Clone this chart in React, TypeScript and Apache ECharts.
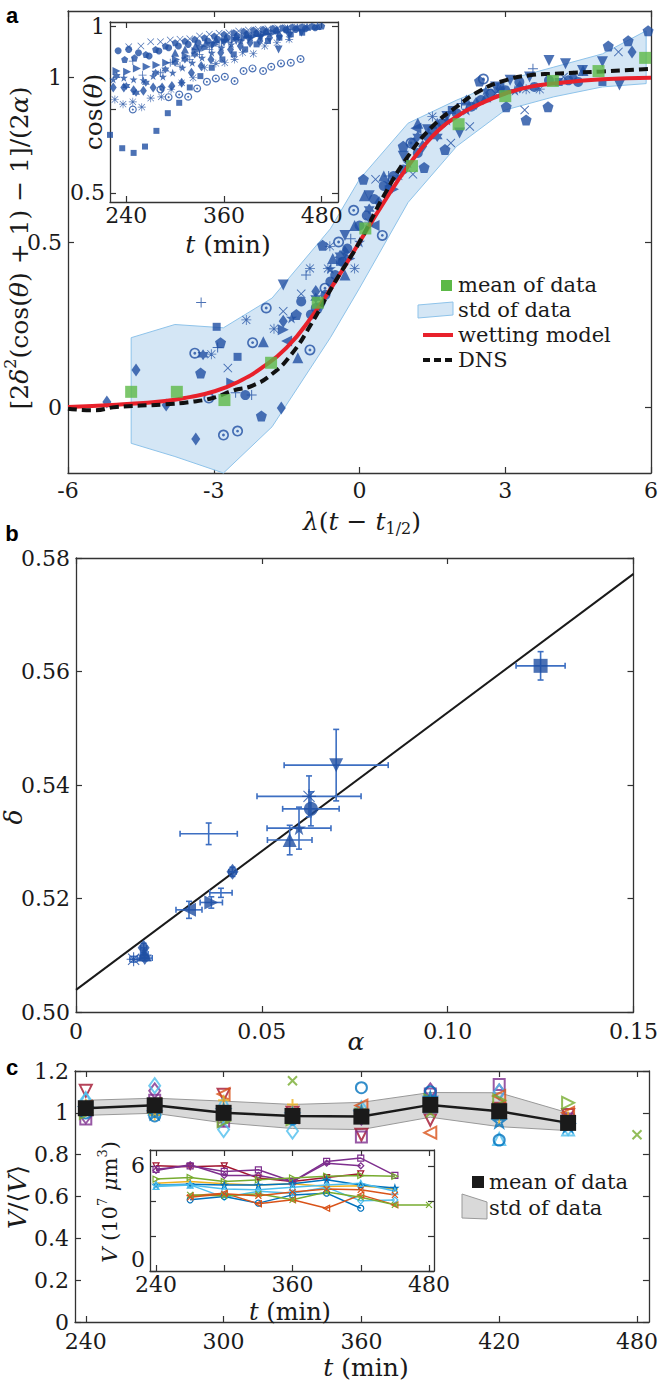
import React, { useEffect, useRef } from "react";
import * as echarts from "echarts";

const FONT = "DejaVu Serif";
const BLUE = "#1f4fa3";
const EBAR = "#3d6fc2";
const AXIS = "#333333";
const GREEN = "#5cb947";
const MB = "#0072BD", MO = "#D95319", MY = "#EDB120", MP = "#7E2F8E", MG = "#77AC30", MC = "#4DBEEE", MR = "#A2142F";

const SYM: Record<string, string> = {
  circle: "circle",
  square: "rect",
  triUp: "triangle",
  diamond: "diamond",
  triDown: "path://M0,0L20,0L10,18Z",
  triLeft: "path://M18,0L18,20L0,10Z",
  triRight: "path://M0,0L0,20L18,10Z",
  pentagon: "path://M10,0L19.5,6.9L15.9,18.1L4.1,18.1L0.5,6.9Z",
  pentagram: "path://M10,0L12.4,7.3L20,7.3L13.8,11.8L16.2,19L10,14.5L3.8,19L6.2,11.8L0,7.3L7.6,7.3Z",
  hexagram: "path://M10,0L12.9,5L18.7,5L15.8,10L18.7,15L12.9,15L10,20L7.1,15L1.3,15L4.2,10L1.3,5L7.1,5Z",
  plus: "path://M9,0H11V9H20V11H11V20H9V11H0V9H9Z",
  cross: "path://M1.4,0L10,8.6L18.6,0L20,1.4L11.4,10L20,18.6L18.6,20L10,11.4L1.4,20L0,18.6L8.6,10L0,1.4Z",
  asterisk: "path://M9.2,0H10.8V9.2H20V10.8H10.8V20H9.2V10.8H0V9.2H9.2ZM2.6,1.5L10,8.9L17.4,1.5L18.5,2.6L11.1,10L18.5,17.4L17.4,18.5L10,11.1L2.6,18.5L1.5,17.4L8.9,10L1.5,2.6Z",
  dotCircle: "path://M10,0A10,10 0 1,1 9.99,0ZM10,3A7,7 0 1,0 10.01,3ZM10,7.4A2.6,2.6 0 1,1 9.99,7.4Z",
  openCross: "path://M0,0L20,20M20,0L0,20",
  openPlus: "path://M10,0L10,20M0,10L20,10",
};

// ---------- Panel a: main ----------
const aBandLambda = [-4.7, -3.8, -2.8, -1.8, -0.6, 0, 1, 2, 3, 4, 5, 5.9];
const aBandLower = [-0.11, -0.15, -0.2, -0.06, 0.21, 0.36, 0.62, 0.79, 0.9, 0.94, 0.97, 0.98];
const aBandUpper = [0.21, 0.25, 0.24, 0.33, 0.54, 0.69, 0.86, 0.93, 0.99, 1.03, 1.07, 1.14];

const aMeanLambda = [-4.7, -3.76, -2.78, -1.82, -0.86, 0.12, 1.08, 2.04, 3.0, 3.98, 4.92, 5.88];
const aMeanValue = [0.046, 0.046, 0.021, 0.134, 0.316, 0.541, 0.73, 0.857, 0.942, 0.988, 1.018, 1.058];

const wettingLambda = [-6, -5, -4, -3.5, -3, -2.5, -2, -1.5, -1, -0.5, 0, 0.5, 1, 1.5, 2, 2.5, 3, 3.5, 4, 5, 6];
const wettingValue = [0.0, 0.007, 0.018, 0.03, 0.047, 0.076, 0.12, 0.18, 0.27, 0.38, 0.5, 0.62, 0.73, 0.82, 0.88, 0.92, 0.95, 0.97, 0.98, 0.993, 0.998];

const dnsLambda = [-6, -5.5, -5, -4, -3.5, -3, -2.6, -2.2, -1.8, -1.4, -1, -0.5, 0, 0.5, 1, 1.5, 2, 2.5, 3, 3.5, 4, 5, 6];
const dnsValue = [-0.005, -0.01, 0.0, 0.008, 0.015, 0.028, 0.05, 0.065, 0.1, 0.16, 0.25, 0.38, 0.5, 0.64, 0.76, 0.85, 0.91, 0.96, 0.99, 1.005, 1.01, 1.017, 1.025];

const aDiamond = [[-5.2, 0.015], [-4.6, 0.112], [-3.98, 0.006], [-3.37, -0.097], [-1.61, -0.003], [-1.57, 0.26], [-0.9, 0.35], [-0.3, 0.47], [0.4, 0.62], [1.3, 0.79], [2.4, 0.92], [3.3, 0.97], [4.4, 1.0], [5.61, 1.076]];
const aPentagon = [[-3.27, 0.103], [-2.86, 0.195], [-2.02, -0.027], [-1.3, 0.28], [-0.76, 0.49], [0.08, 0.69], [0.9, 0.79], [1.33, 0.726], [1.76, 0.78], [2.47, 0.988], [3.02, 0.91], [3.43, 0.87], [3.88, 0.91], [5.12, 1.094], [5.53, 1.11], [5.94, 1.14]];
const aDotCircle = [[-3.39, 0.163], [-3.1, 0.027], [-2.8, -0.085], [-2.51, -0.073], [-2.2, 0.195], [-1.92, 0.3], [-1.02, 0.173], [-0.71, 0.36], [-0.43, 0.5], [-0.12, 0.596], [0.47, 0.52], [1.06, 0.8], [2.55, 0.994]];
const aPlus = [[-3.26, 0.317], [-2.92, 0.18], [-2.55, 0.043], [-2.22, 0.036], [-1.1, 0.4], [-0.18, 0.51], [0.6, 0.7], [2.1, 0.92], [3.57, 1.025]];
const aCross = [[-2.71, 0.118], [-1.57, 0.29], [-1.2, 0.343], [0.33, 0.69], [1.1, 0.705], [1.88, 0.8], [2.27, 0.85], [2.8, 0.95], [3.4, 0.9], [4.2, 1.0], [5.33, 1.076]];
const aAsterisk = [[-3.05, 0.16], [-2.33, 0.264], [-1.76, 0.237], [-1.02, 0.42], [-0.65, 0.42], [-0.61, 0.487], [-0.1, 0.42], [0.2, 0.56], [0.8, 0.7], [1.5, 0.88], [3.43, 0.963], [3.71, 0.963]];
const aSquare = [[-2.94, 0.243], [-2.51, 0.152], [-0.4, 0.44], [0.6, 0.66], [1.9, 0.9], [2.9, 0.97], [4.1, 0.985], [5.0, 0.985]];
const aTriUp = [[-1.98, 0.198], [-1.27, 0.149], [-0.55, 0.45], [-0.3, 0.4], [-0.1, 0.55], [0.1, 0.64], [0.5, 0.7], [1.2, 0.86], [1.6, 0.86], [2.2, 0.93], [2.6, 0.94], [4.6, 1.02]];
const aTriDown = [[-1.57, 0.37], [-0.8, 0.3], [-0.3, 0.52], [0.2, 0.64], [0.9, 0.76], [1.4, 0.84], [1.8, 0.88], [2.06, 0.83], [2.8, 0.97], [3.1, 0.99], [3.5, 1.0], [3.9, 1.05], [4.24, 1.04], [4.59, 1.02], [5.0, 1.046], [5.35, 0.976]];
const aTriRight = [[-2.63, 0.073], [-1.57, 0.234], [-0.2, 0.45], [0.7, 0.66]];
const aTriLeft = [[-1.5, 0.2], [0.3, 0.55], [1.16, 0.845]];
const aHexagram = [[-3.22, 0.158], [-0.9, 0.33], [-0.4, 0.46], [0.2, 0.6], [1.2, 0.82], [1.6, 0.82], [2.9, 0.96]];
const aCircle = [[-2.35, 0.036], [-1.2, 0.32], [-1.0, 0.28], [-0.9, 0.3], [-0.7, 0.34], [-0.6, 0.38], [-0.5, 0.4], [-0.35, 0.44], [-0.25, 0.48], [0.0, 0.55], [0.15, 0.58], [0.3, 0.63], [0.5, 0.67], [0.7, 0.7], [0.9, 0.72], [1.1, 0.8], [1.2, 0.77], [1.4, 0.82], [1.5, 0.84], [1.7, 0.86], [2.0, 0.89], [2.3, 0.91], [2.5, 0.93], [2.7, 0.95], [3.0, 0.96], [3.29, 0.985], [3.6, 0.97], [3.9, 0.99], [4.3, 0.99], [4.5, 0.985]];
const aPentagram = [[-1.4, 0.27], [-0.6, 0.42], [0.0, 0.5], [0.6, 0.68], [1.0, 0.74], [1.8, 0.87], [2.2, 0.9], [2.6, 0.96], [3.2, 0.96]];

// ---------- Panel a: inset ----------
const inDotCircle = [[248, 0.75], [282, 0.81], [292, 0.787], [305, 0.795], [316, 0.788], [327, 0.813], [339, 0.833], [350, 0.843], [361, 0.848], [373, 0.835], [384, 0.865], [395, 0.873], [408, 0.865], [418, 0.878], [430, 0.888], [442, 0.89], [454, 0.901]];
const inSquare = [[220, 0.674], [235, 0.634], [249, 0.62], [263, 0.639], [277, 0.686], [291, 0.739], [305, 0.77], [318, 0.816], [331, 0.85], [345, 0.875], [358, 0.9], [372, 0.915], [386, 0.93], [400, 0.945], [414, 0.955], [428, 0.965], [442, 0.975], [456, 0.98]];
const inAsterisk = [[226, 0.78], [236, 0.766], [248, 0.773], [259, 0.757], [270, 0.784], [283, 0.788], [295, 0.81], [308, 0.83], [322, 0.845], [336, 0.875], [350, 0.888], [361, 0.89], [373, 0.9], [383, 0.92], [396, 0.917], [410, 0.94], [425, 0.95], [440, 0.96]];
const inDiamond = [[224, 0.816], [237, 0.816], [249, 0.808], [261, 0.806], [273, 0.816], [284, 0.816], [296, 0.82], [308, 0.83], [320, 0.86], [332, 0.88], [344, 0.9], [356, 0.92], [368, 0.93], [380, 0.94], [392, 0.95], [404, 0.955], [416, 0.965], [428, 0.97]];
const inPentagram = [[224, 0.84], [237, 0.845], [249, 0.84], [261, 0.838], [273, 0.85], [285, 0.848], [297, 0.86], [309, 0.875], [321, 0.89], [333, 0.905], [345, 0.92], [357, 0.935], [369, 0.945], [381, 0.955], [393, 0.965], [405, 0.97]];
const inTriRight = [[228, 0.865], [241, 0.863], [253, 0.873], [265, 0.878], [277, 0.883], [289, 0.89], [301, 0.9], [313, 0.91], [325, 0.925], [337, 0.935], [349, 0.945], [361, 0.955], [373, 0.96], [385, 0.965], [397, 0.97], [409, 0.975], [421, 0.98]];
const inPlus = [[248, 0.895], [260, 0.853], [282, 0.86], [294, 0.89], [306, 0.88], [318, 0.9], [330, 0.915], [342, 0.93], [354, 0.94], [366, 0.95], [378, 0.96], [390, 0.965], [402, 0.972], [414, 0.978], [426, 0.984], [438, 0.99]];
const inCross = [[243, 0.938], [258, 0.94], [270, 0.953], [282, 0.953], [294, 0.958], [306, 0.96], [318, 0.962], [330, 0.97], [342, 0.975], [354, 0.978], [366, 0.98], [378, 0.985], [390, 0.988], [402, 0.99], [414, 0.992], [426, 0.994], [438, 0.995], [450, 0.996], [462, 0.997], [474, 0.998]];
const inCircle = [[230, 0.926], [243, 0.93], [255, 0.92], [268, 0.91], [280, 0.925], [292, 0.935], [304, 0.94], [316, 0.945], [328, 0.95], [340, 0.955], [352, 0.96], [364, 0.965], [376, 0.97], [388, 0.975], [400, 0.978], [412, 0.982], [424, 0.985], [436, 0.988], [448, 0.99], [460, 0.992], [472, 0.995]];
const inTriDown = [[330, 0.93], [345, 0.94], [360, 0.95], [375, 0.955], [390, 0.96], [405, 0.965], [427, 0.93], [440, 0.97], [455, 0.98]];
const inTriUp = [[300, 0.92], [312, 0.93], [325, 0.94], [338, 0.95], [350, 0.96], [362, 0.965], [375, 0.97], [388, 0.975], [400, 0.98], [412, 0.985], [425, 0.99], [438, 0.993], [450, 0.996], [462, 0.998], [475, 1.0]];
const inHexagram = [[228, 0.85], [240, 0.82], [252, 0.8], [264, 0.83], [276, 0.86], [288, 0.87], [300, 0.89], [312, 0.9], [324, 0.915]];
const inPentagon = [[238, 0.9], [250, 0.905], [264, 0.915], [276, 0.93], [288, 0.94], [300, 0.95], [312, 0.955], [324, 0.96], [336, 0.965], [348, 0.97], [360, 0.975], [372, 0.98], [384, 0.984], [396, 0.988], [408, 0.99], [420, 0.993], [432, 0.995], [444, 0.997], [456, 0.998], [468, 0.999], [480, 1.0]];

// ---------- Panel b ----------
const bAlpha = [0.125, 0.07, 0.0627, 0.0632, 0.06, 0.0575, 0.0357, 0.0421, 0.0304, 0.0364, 0.039, 0.0182, 0.0184, 0.0155, 0.0185];
const bDelta = [0.561, 0.5435, 0.538, 0.5358, 0.5324, 0.5303, 0.5314, 0.5247, 0.518, 0.5193, 0.521, 0.5113, 0.5102, 0.5093, 0.5095];
const bAlphaErr = [0.0066, 0.014, 0.014, 0.0076, 0.0086, 0.006, 0.0077, 0.001, 0.0035, 0.003, 0.003, 0.0008, 0.001, 0.001, 0.002];
const bDeltaErr = [0.0025, 0.0063, 0.0036, 0.003, 0.0037, 0.0026, 0.0019, 0.0008, 0.0015, 0.001, 0.0008, 0.0008, 0.0007, 0.0005, 0.0005];
const bSymbol = ["square", "triDown", "asterisk", "circle", "pentagram", "triUp", "plus", "diamond", "triLeft", "triRight", "plus", "diamond", "triUp", "asterisk", "hexagram"];
const bFitAlpha = [0, 0.15];
const bFitDelta = [0.5039, 0.5772];

// ---------- Panel c ----------
const cTimes = [240, 270, 300, 330, 360, 390, 420, 450];
const cMean = [1.022, 1.036, 1.0, 0.985, 0.982, 1.038, 1.008, 0.952];
const cStdHigh = [1.06, 1.07, 1.056, 1.04, 1.05, 1.097, 1.096, 1.0];
const cStdLow = [0.988, 0.998, 0.952, 0.925, 0.92, 0.979, 0.934, 0.915];

const cRedDown = [[240, 1.105], [270, 1.03], [300, 1.086], [330, 1.0], [360, 0.895], [390, 0.967], [420, 1.02], [450, 0.99]];
const cPurpleDiamond = [[240, 0.985], [270, 1.105], [300, 0.975], [330, 0.99], [360, 0.98], [390, 1.105], [420, 1.1], [450, 0.96]];
const cPurpleSquare = [[240, 0.97], [270, 1.06], [300, 0.96], [330, 0.99], [360, 0.885], [390, 1.09], [420, 1.135], [450, 0.97]];
const cCyanDiamond = [[240, 1.06], [270, 1.13], [300, 0.92], [330, 0.913], [360, 1.02], [390, 1.04], [420, 1.1], [450, 0.93]];
const cCyanUp = [[240, 1.07], [270, 1.02], [300, 1.05], [330, 1.0], [360, 1.01], [390, 1.03], [420, 0.875], [450, 0.92]];
const cBlueCircle = [[240, 1.0], [270, 0.985], [300, 0.99], [330, 0.97], [360, 1.12], [390, 1.1], [420, 0.87], [450, 0.95]];
const cOrangeLeft = [[240, 1.03], [270, 1.04], [300, 1.09], [330, 0.98], [360, 1.035], [390, 0.905], [420, 1.08], [450, 1.0]];
const cGreenCross = [[240, 1.01], [270, 1.02], [300, 0.97], [330, 1.153], [360, 1.0], [390, 1.0], [420, 1.02], [480, 0.895]];
const cGreenRight = [[240, 1.0], [270, 1.03], [300, 0.96], [330, 0.97], [360, 0.99], [390, 1.06], [420, 1.06], [450, 1.048]];
const cYellowPlus = [[240, 1.04], [270, 0.99], [300, 1.06], [330, 1.04], [360, 1.01], [390, 1.03], [420, 0.97], [450, 0.98]];
const cBlueStar = [[240, 1.02], [270, 1.0], [300, 1.01], [330, 0.99], [360, 1.0], [390, 1.07], [420, 0.96], [450, 0.94]];

const vRedDown = [[240, 6.0], [270, 5.95], [300, 6.0], [330, 5.3], [360, 5.1], [390, 5.33], [420, 5.54]];
const vPurpleDiamond = [[240, 5.73], [270, 6.06], [300, 5.45], [330, 5.45], [360, 5.1], [390, 6.15], [420, 6.0]];
const vPurpleSquare = [[240, 5.8], [270, 6.0], [300, 5.68], [330, 5.77], [360, 5.1], [390, 6.25], [420, 6.44], [450, 5.45]];
const vGreenRight = [[240, 5.24], [270, 5.33], [300, 5.1], [330, 5.2], [360, 5.3], [390, 5.4], [420, 5.45], [450, 5.4]];
const vYellowPlus = [[240, 5.0], [270, 5.1], [300, 4.97], [330, 4.9], [360, 4.97], [390, 4.82], [420, 4.86], [450, 4.67]];
const vBlueStar = [[240, 4.9], [270, 4.95], [300, 4.9], [330, 4.9], [360, 4.97], [390, 5.2], [420, 4.9], [450, 4.73]];
const vCyanUp = [[240, 4.82], [270, 4.9], [300, 4.67], [330, 4.63], [360, 4.77], [390, 4.9], [420, 5.0], [450, 4.55]];
const vCyanDiamond = [[240, 4.91], [270, 4.91], [300, 4.2], [330, 4.55], [360, 4.44], [390, 4.77], [420, 4.0], [450, 4.05]];
const vBlueCircle = [[270, 4.06], [300, 4.25], [330, 3.87], [360, 4.34], [390, 4.44], [420, 3.58]];
const vOrangeLeft = [[270, 4.29], [300, 4.44], [330, 3.83], [360, 4.06], [390, 3.58], [420, 4.34], [450, 3.77]];
const vGreenCross = [[270, 4.34], [300, 4.29], [330, 4.4], [360, 4.06], [390, 4.5], [420, 4.2], [450, 3.77], [480, 3.77]];
const vOrangeCross = [[270, 4.2], [300, 4.4], [330, 4.29], [360, 4.5], [390, 4.68], [420, 4.63], [450, 4.34]];

// ---------- helpers ----------
function axisPair(kind: "x" | "y", grid: number, min: number, max: number, ticks: number[], labels: number[], fmt: (v: number) => string, z: number, fontSize: number, margin: number) {
  const base: any = {
    type: "value", gridIndex: grid, min, max, z,
    splitLine: { show: false },
    axisLine: { show: true, onZero: false, lineStyle: { color: AXIS, width: 1.3 } },
    axisTick: { show: true, inside: true, length: 6, customValues: ticks, lineStyle: { color: AXIS, width: 1.2 } },
  };
  return [
    { ...base, position: kind === "x" ? "bottom" : "left", axisLabel: { show: true, customValues: labels, formatter: fmt, fontFamily: FONT, fontSize, color: "#1a1a1a", margin } },
    { ...base, position: kind === "x" ? "top" : "right", axisLabel: { show: false } },
  ];
}

function filled(axis: number, sym: string, data: number[][], size: any, color: string, z: number) {
  return { type: "scatter", xAxisIndex: axis, yAxisIndex: axis, symbol: SYM[sym], symbolSize: size, data, itemStyle: { color }, z, silent: true };
}
function hollow(axis: number, sym: string, data: number[][], size: any, color: string, z: number) {
  return { type: "scatter", xAxisIndex: axis, yAxisIndex: axis, symbol: SYM[sym], symbolSize: size, data, itemStyle: { color: "rgba(255,255,255,0)", borderColor: color, borderWidth: 2 }, z, silent: true };
}
function vLine(sym: string, data: number[][], color: string) {
  return { type: "line", xAxisIndex: 8, yAxisIndex: 8, symbol: SYM[sym], symbolSize: 6, showSymbol: true, data, lineStyle: { color, width: 1.5 }, itemStyle: { color: "rgba(255,255,255,0)", borderColor: color, borderWidth: 1.2 }, z: 12, silent: true };
}
function band(axis: number, xs: number[], lo: number[], hi: number[], fill: string, stroke: string, z: number) {
  return {
    type: "custom", xAxisIndex: axis, yAxisIndex: axis, z, silent: true, data: [[xs[0], lo[0]]],
    renderItem: (_p: any, api: any) => {
      const pts: number[][] = [];
      for (let i = 0; i < xs.length; i++) pts.push(api.coord([xs[i], hi[i]]));
      for (let i = xs.length - 1; i >= 0; i--) pts.push(api.coord([xs[i], lo[i]]));
      return { type: "polygon", shape: { points: pts }, style: { fill, stroke, lineWidth: 1 } };
    },
  };
}
function mkRich(size: number, lh: number) {
  const s = Math.round(size * 0.62);
  return {
    i: { fontStyle: "italic", fontFamily: FONT, fontSize: size },
    sup: { fontSize: s, fontFamily: FONT, lineHeight: lh, verticalAlign: "top" },
    sub: { fontSize: s, fontFamily: FONT, lineHeight: lh, verticalAlign: "bottom" },
  };
}
function label(text: string, x: number, y: number, rotated: boolean, size = 24, lh = 34) {
  return {
    type: "text", x, y, rotation: rotated ? Math.PI / 2 : 0, z: 50, silent: true,
    style: { text, fontFamily: FONT, fontSize: size, fill: "#1a1a1a", align: "center", verticalAlign: "middle", textAlign: "center", textVerticalAlign: "middle", rich: mkRich(size, lh) },
  };
}
function legendText(text: string, x: number, y: number) {
  return { type: "text", x, y, z: 50, silent: true, style: { text, fontFamily: FONT, fontSize: 21, fill: "#1a1a1a", align: "left", verticalAlign: "middle", textAlign: "left", textVerticalAlign: "middle" } };
}
function panelLetter(text: string, x: number, y: number) {
  return { type: "text", x, y, z: 50, silent: true, style: { text, fontFamily: "Liberation Sans", fontWeight: "bold", fontSize: 22, fill: "#000", align: "center", verticalAlign: "middle", textAlign: "center", textVerticalAlign: "middle" } };
}

export default function App() {
  const ref = useRef<HTMLDivElement>(null);
  useEffect(() => {
    document.body.style.margin = "0";
    const chart = echarts.init(ref.current!, undefined, { renderer: "svg" });
    const str = (v: number) => String(v);
    const FS = 22;
    const xA = axisPair("x", 0, -6, 6, [-6, -3, 0, 3, 6], [-6, -3, 0, 3, 6], str, 0, FS, 6);
    const yA = axisPair("y", 0, -0.2, 1.2, [0, 0.5, 1], [0, 0.5, 1], str, 0, FS, 6);
    const xAi = axisPair("x", 1, 220, 500, [240, 360, 480], [240, 360, 480], str, 11, FS, 2);
    const yAi = axisPair("y", 1, 0.473, 1.012, [0.5, 0.75, 1], [0.5, 1], str, 11, FS, 5);
    const xB = axisPair("x", 2, 0, 0.15, [0, 0.05, 0.1, 0.15], [0, 0.05, 0.1, 0.15], (v) => (v === 0 ? "0" : v.toFixed(2)), 0, FS, 8);
    const yB = axisPair("y", 2, 0.5, 0.58, [0.5, 0.52, 0.54, 0.56, 0.58], [0.5, 0.52, 0.54, 0.56, 0.58], (v) => v.toFixed(2), 0, FS, 6);
    const xC = axisPair("x", 3, 235.3, 485.2, [240, 300, 360, 420, 480], [240, 300, 360, 420, 480], str, 0, FS, 8);
    const yC = axisPair("y", 3, 0, 1.2, [0, 0.2, 0.4, 0.6, 0.8, 1, 1.2], [0, 0.2, 0.4, 0.6, 0.8, 1, 1.2], (v) => String(Math.round(v * 10) / 10), 0, FS, 6);
    const xCi = axisPair("x", 4, 234.7, 484.4, [240, 300, 360, 420, 480], [240, 360, 480], str, 11, FS, 2);
    // the "0" label sits just above the bottom edge, as in the reference
    const yCi = axisPair("y", 4, 0, 6.9, [0, 2, 4, 6], [0.65, 6], (v) => (v < 1 ? "0" : "6"), 11, FS, 5);

    const series: any[] = [
      band(0, aBandLambda, aBandLower, aBandUpper, "#d4e6f5", "#8ec3ea", 1),
      filled(0, "diamond", aDiamond, [9, 13], BLUE, 3),
      filled(0, "pentagon", aPentagon, 11, BLUE, 3),
      filled(0, "dotCircle", aDotCircle, 11, BLUE, 3),
      filled(0, "plus", aPlus, 10, BLUE, 3),
      filled(0, "cross", aCross, 9, BLUE, 3),
      filled(0, "asterisk", aAsterisk, 10, BLUE, 3),
      filled(0, "square", aSquare, 8, BLUE, 3),
      filled(0, "triUp", aTriUp, 11, BLUE, 3),
      filled(0, "triDown", aTriDown, 11, BLUE, 3),
      filled(0, "triRight", aTriRight, 11, BLUE, 3),
      filled(0, "triLeft", aTriLeft, 11, BLUE, 3),
      filled(0, "hexagram", aHexagram, 11, BLUE, 3),
      filled(0, "circle", aCircle, 10, BLUE, 3),
      filled(0, "pentagram", aPentagram, 11, BLUE, 3),
      { type: "line", xAxisIndex: 0, yAxisIndex: 0, data: wettingLambda.map((x, i) => [x, wettingValue[i]]), smooth: true, showSymbol: false, symbol: "none", lineStyle: { color: "#e8212b", width: 4 }, z: 4, silent: true },
      { type: "line", xAxisIndex: 0, yAxisIndex: 0, data: dnsLambda.map((x, i) => [x, dnsValue[i]]), smooth: true, showSymbol: false, symbol: "none", lineStyle: { color: "#111", width: 4, type: [9, 5] }, z: 4, silent: true },
      { type: "scatter", xAxisIndex: 0, yAxisIndex: 0, symbol: "rect", symbolSize: 12, data: aMeanLambda.map((x, i) => [x, aMeanValue[i]]), itemStyle: { color: GREEN }, z: 5, silent: true },
      // inset a
      filled(2, "dotCircle", inDotCircle, 8, BLUE, 12),
      filled(2, "square", inSquare, 6, BLUE, 12),
      filled(2, "asterisk", inAsterisk, 8, BLUE, 12),
      filled(2, "diamond", inDiamond, [7, 10], BLUE, 12),
      filled(2, "pentagram", inPentagram, 8, BLUE, 12),
      filled(2, "triRight", inTriRight, 8, BLUE, 12),
      filled(2, "plus", inPlus, 8, BLUE, 12),
      filled(2, "cross", inCross, 7, BLUE, 12),
      filled(2, "circle", inCircle, 7, BLUE, 12),
      filled(2, "triDown", inTriDown, 8, BLUE, 12),
      filled(2, "triUp", inTriUp, 8, BLUE, 12),
      filled(2, "hexagram", inHexagram, 8, BLUE, 12),
      filled(2, "pentagon", inPentagon, 7, BLUE, 12),
      // panel b
      { type: "line", xAxisIndex: 4, yAxisIndex: 4, data: bFitAlpha.map((x, i) => [x, bFitDelta[i]]), showSymbol: false, symbol: "none", lineStyle: { color: "#1a1a1a", width: 2 }, z: 2, silent: true },
      {
        type: "custom", xAxisIndex: 4, yAxisIndex: 4, z: 3, silent: true,
        data: bAlpha.map((a, i) => [a, bDelta[i]]),
        renderItem: (p: any, api: any) => {
          const i = p.dataIndex;
          const a = bAlpha[i], d = bDelta[i], ea = bAlphaErr[i], ed = bDeltaErr[i];
          const l = api.coord([a - ea, d]), r = api.coord([a + ea, d]);
          const t = api.coord([a, d + ed]), b = api.coord([a, d - ed]);
          const c = 3;
          const st = { stroke: EBAR, lineWidth: 1.6 };
          const ln = (x1: number, y1: number, x2: number, y2: number) => ({ type: "line", shape: { x1, y1, x2, y2 }, style: st });
          return {
            type: "group",
            children: [
              ln(l[0], l[1], r[0], r[1]), ln(l[0], l[1] - c, l[0], l[1] + c), ln(r[0], r[1] - c, r[0], r[1] + c),
              ln(t[0], t[1], b[0], b[1]), ln(t[0] - c, t[1], t[0] + c, t[1]), ln(b[0] - c, b[1], b[0] + c, b[1]),
            ],
          };
        },
      },
      ...bAlpha.map((a, i) => filled(4, bSymbol[i], [[a, bDelta[i]]], bSymbol[i] === "diamond" ? [12, 16] : bSymbol[i] === "plus" ? 0 : 14, BLUE, 4)),
      // panel c
      band(6, cTimes, cStdLow, cStdHigh, "#d9d9d9", "#999999", 1),
      hollow(6, "triDown", cRedDown, 12, MR, 3),
      hollow(6, "diamond", cPurpleDiamond, [11, 15], MP, 3),
      hollow(6, "square", cPurpleSquare, 11, MP, 3),
      hollow(6, "diamond", cCyanDiamond, [11, 15], MC, 3),
      hollow(6, "triUp", cCyanUp, 12, MC, 3),
      hollow(6, "circle", cBlueCircle, 11, MB, 3),
      hollow(6, "triLeft", cOrangeLeft, 12, MO, 3),
      hollow(6, "openCross", cGreenCross, 9, MG, 3),
      hollow(6, "triRight", cGreenRight, 12, MG, 3),
      hollow(6, "openPlus", cYellowPlus, 11, MY, 3),
      hollow(6, "pentagram", cBlueStar, 12, MB, 3),
      { type: "line", xAxisIndex: 6, yAxisIndex: 6, data: cTimes.map((x, i) => [x, cMean[i]]), symbol: "rect", symbolSize: 16, showSymbol: true, lineStyle: { color: "#1a1a1a", width: 2.5 }, itemStyle: { color: "#1a1a1a" }, z: 5, silent: true },
      // inset c
      vLine("triDown", vRedDown, MR),
      vLine("diamond", vPurpleDiamond, MP),
      vLine("square", vPurpleSquare, MP),
      vLine("triRight", vGreenRight, MG),
      vLine("openPlus", vYellowPlus, MY),
      vLine("pentagram", vBlueStar, MB),
      vLine("triUp", vCyanUp, MC),
      vLine("diamond", vCyanDiamond, MC),
      vLine("circle", vBlueCircle, MB),
      vLine("triLeft", vOrangeLeft, MO),
      vLine("openCross", vGreenCross, MG),
      vLine("openCross", vOrangeCross, MO),
    ];

    const graphic: any[] = [
      panelLetter("a", 12, 15),
      panelLetter("b", 12, 533),
      panelLetter("c", 12, 1067),
      label("[2{i|δ}{sup|2}(cos({i|θ}) + 1) − 1]/(2{i|α})", 19, 248, true, 25, 34),
      label("{i|λ}({i|t} − {i|t}{sub|1/2})", 362, 521, false, 25, 30),
      label("cos({i|θ})", 93, 112, true, 25, 30),
      label("{i|t} (min)", 228, 244, false, 25, 28),
      label("{i|δ}", 13, 817, true, 25, 30),
      label("{i|α}", 356, 1041, false, 25, 28),
      label("{i|V}/⟨{i|V}⟩", 17, 1197, true, 25, 30),
      label("{i|t} (min)", 366, 1367, false, 25, 28),
      label("{i|V} (10{sup|7} {i|μ}m{sup|3})", 110, 1202, true, 21, 28),
      label("{i|t} (min)", 290, 1312, false, 24, 26),
      // legend a
      { type: "rect", z: 50, silent: true, shape: { x: 441, y: 280, width: 11, height: 11 }, style: { fill: GREEN } },
      { type: "polygon", z: 50, silent: true, shape: { points: [[418, 305], [453, 302], [453, 315], [418, 318]] }, style: { fill: "#d4e6f5", stroke: "#8ec3ea", lineWidth: 1 } },
      { type: "line", z: 50, silent: true, shape: { x1: 423, y1: 335, x2: 453, y2: 335 }, style: { stroke: "#e8212b", lineWidth: 4 } },
      { type: "line", z: 50, silent: true, shape: { x1: 423, y1: 360, x2: 453, y2: 360 }, style: { stroke: "#111", lineWidth: 4, lineDash: [7, 4] } },
      legendText("mean of data", 458, 285),
      legendText("std of data", 458, 310),
      legendText("wetting model", 458, 335),
      legendText("DNS", 458, 360),
      // legend c
      { type: "rect", z: 50, silent: true, shape: { x: 472, y: 1176, width: 12, height: 12 }, style: { fill: "#1a1a1a" } },
      { type: "polygon", z: 50, silent: true, shape: { points: [[462, 1194], [487, 1202], [487, 1219], [462, 1218]] }, style: { fill: "#d9d9d9", stroke: "#999", lineWidth: 1 } },
      legendText("mean of data", 489, 1182),
      legendText("std of data", 489, 1208),
    ];

    chart.setOption({
      animation: false,
      backgroundColor: "#ffffff",
      textStyle: { fontFamily: FONT },
      grid: [
        { left: 68, top: 11, width: 588, height: 462, show: false },
        { left: 110, top: 22, width: 228, height: 180, show: true, backgroundColor: "#ffffff", borderWidth: 0, z: 10 },
        { left: 76, top: 558, width: 580, height: 454, show: false },
        { left: 75, top: 1071, width: 582, height: 251, show: false },
        { left: 150, top: 1150, width: 284, height: 121, show: true, backgroundColor: "#ffffff", borderWidth: 0, z: 10 },
      ],
      xAxis: [...xA, ...xAi, ...xB, ...xC, ...xCi],
      yAxis: [...yA, ...yAi, ...yB, ...yC, ...yCi],
      series,
      graphic: { elements: graphic },
    });
    return () => chart.dispose();
  }, []);
  return <div ref={ref} style={{ width: 661, height: 1384 }} />;
}
